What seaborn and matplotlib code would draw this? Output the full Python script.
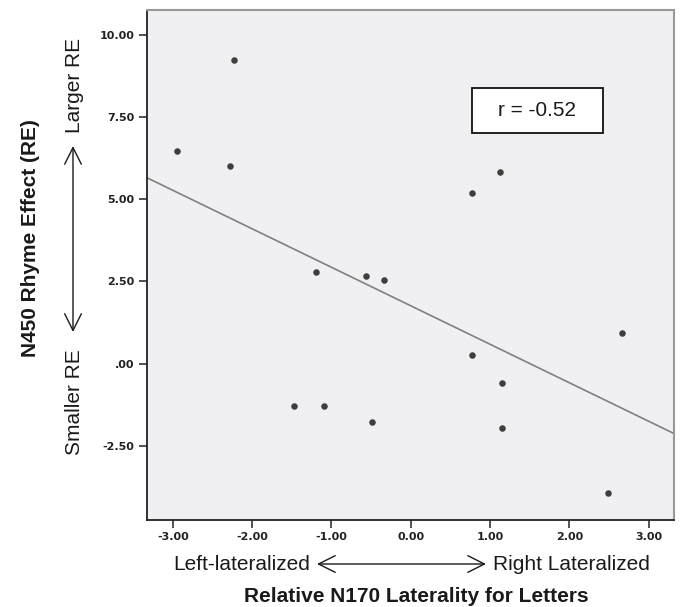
import matplotlib
matplotlib.use('Agg')
import matplotlib.pyplot as plt
from matplotlib.patches import Rectangle
import pandas as pd
import seaborn as sns

# values
laterality = [-2.23, -2.95, -2.28, 1.12, 0.77, -1.20, -0.57, -0.34,
              2.67, 0.77, 1.15, -1.47, -1.10, -0.49, 1.15, 2.49]
rhyme_effect = [9.24, 6.46, 6.01, 5.83, 5.19, 2.79, 2.68, 2.55,
                0.93, 0.25, -0.60, -1.28, -1.29, -1.77, -1.95, -3.93]

x_ticks = [-3, -2, -1, 0, 1, 2, 3]
x_tick_labels = ['-3.00', '-2.00', '-1.00', '0.00', '1.00', '2.00', '3.00']
y_ticks = [10, 7.5, 5, 2.5, 0, -2.5]
y_tick_labels = ['10.00', '7.50', '5.00', '2.50', '.00', '-2.50']
r_label = 'r = -0.52'

W, H = 680, 607


def fx(px):
    return px / W


def fy(py):
    return 1 - py / H


def main():
    sns.set_style('white')
    plt.rcParams['font.family'] = ['Liberation Sans', 'DejaVu Sans']

    df = pd.DataFrame({'laterality': laterality, 'rhyme': rhyme_effect})

    fig = plt.figure(figsize=(W / 100, H / 100), dpi=100)
    ax = fig.add_axes([fx(146.7), fy(520), fx(674) - fx(146.7), fy(10) - fy(520)])
    ax.set_facecolor('#f0f0f2')

    ax.set_xlim(-3.33, 3.32)
    ax.set_ylim(-4.75, 10.75)

    sns.regplot(data=df, x='laterality', y='rhyme', ax=ax, ci=None, truncate=False,
                scatter_kws={'s': 22, 'color': '#111111', 'linewidths': 0},
                line_kws={'color': '#808080', 'linewidth': 1.2})

    ax.set_xlim(-3.33, 3.32)
    ax.set_ylim(-4.75, 10.75)
    ax.set_xlabel('')
    ax.set_ylabel('')

    ax.set_xticks(x_ticks)
    ax.set_xticklabels(x_tick_labels)
    ax.set_yticks(y_ticks)
    ax.set_yticklabels(y_tick_labels)
    ax.tick_params(axis='both', direction='out', length=5.5, width=1.1, pad=3.5,
                   colors='#222222', labelsize=8, left=True, bottom=True)
    for lab in ax.get_xticklabels() + ax.get_yticklabels():
        lab.set_fontfamily('DejaVu Sans')
        lab.set_fontweight('bold')

    for side in ['left', 'bottom']:
        ax.spines[side].set_color('#222222')
        ax.spines[side].set_linewidth(1.3)
    for side in ['top', 'right']:
        ax.spines[side].set_color('#999999')
        ax.spines[side].set_linewidth(1.5)

    # correlation box
    ax.add_patch(Rectangle((0.617, 0.758), 0.248, 0.0882, transform=ax.transAxes,
                           facecolor='white', edgecolor='#111111', linewidth=1.3, zorder=5))
    ax.text(0.617 + 0.124, 0.758 + 0.0441, r_label, transform=ax.transAxes,
            ha='center', va='center', fontsize=15, color='#1a1a1a', zorder=6)

    txt = '#1a1a1a'
    arrow = dict(arrowstyle='<->,head_length=0.6,head_width=0.3', mutation_scale=20,
                 lw=1.0, color=txt, shrinkA=0, shrinkB=0)

    # y side labels
    fig.text(fx(30), fy(238), 'N450 Rhyme Effect (RE)', rotation=90, ha='center', va='center',
             fontsize=15, fontweight='bold', color=txt)
    fig.text(fx(74), fy(85), 'Larger RE', rotation=90, ha='center', va='center',
             fontsize=15, color=txt)
    fig.text(fx(74), fy(402), 'Smaller RE', rotation=90, ha='center', va='center',
             fontsize=15, color=txt)
    ax.annotate('', xy=(fx(73), fy(146)), xytext=(fx(73), fy(332)),
                xycoords='figure fraction', textcoords='figure fraction', arrowprops=arrow)

    # x side labels
    fig.text(fx(242), fy(564), 'Left-lateralized', ha='center', va='center',
             fontsize=15, color=txt)
    fig.text(fx(493), fy(564), 'Right Lateralized', ha='left', va='center',
             fontsize=15, color=txt)
    ax.annotate('', xy=(fx(317), fy(564)), xytext=(fx(486), fy(564)),
                xycoords='figure fraction', textcoords='figure fraction', arrowprops=arrow)
    fig.text(fx(416), fy(597), 'Relative N170 Laterality for Letters', ha='center', va='center',
             fontsize=15, fontweight='bold', color=txt)

    fig.savefig('out.png', dpi=100)
    plt.close(fig)


if __name__ == '__main__':
    main()
